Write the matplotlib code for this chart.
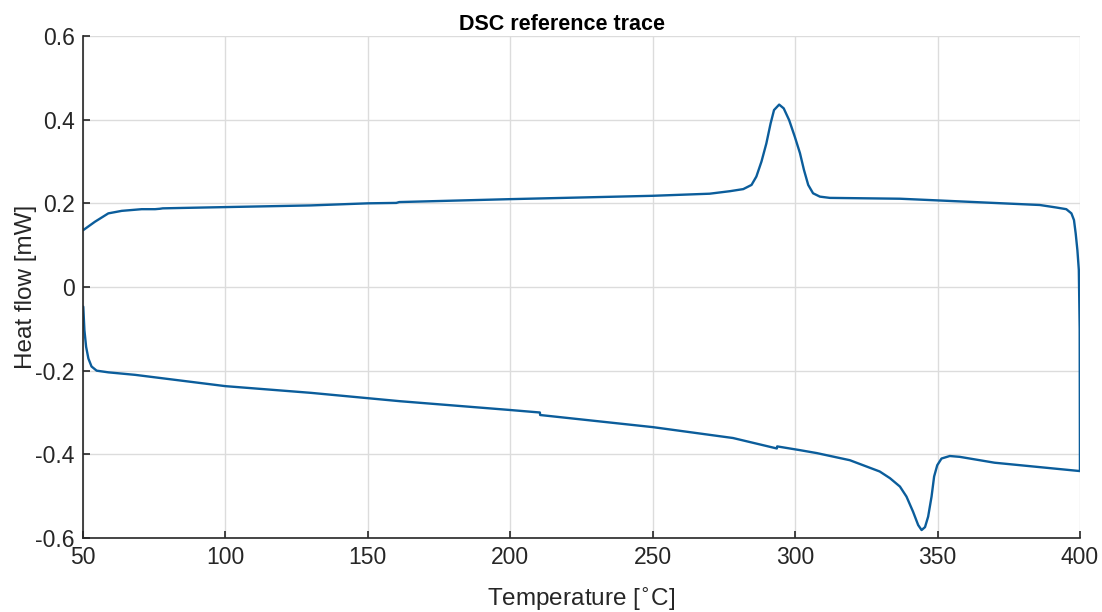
import numpy as np
import matplotlib
import matplotlib.pyplot as plt

matplotlib.use('Agg')

# Heating branch (upper), 50 -> 400 C
heat_temp = [50.1, 54.2, 58.9, 63.6, 70.6, 75.3, 77, 78, 85, 100, 130, 150,
             160, 161, 200, 250, 270, 277.1, 281.8, 284.7, 286.4, 288.2,
             289.9, 291.4, 292.6, 294.4, 296.0, 297.9, 299.9, 301.7, 303.1,
             304.6, 306.3, 308.7, 312.2, 336.8, 350, 385.9, 391.7, 395.2,
             397.0, 397.9, 398.5, 399.1, 399.6, 399.9, 400]
heat_flow = [0.136, 0.156, 0.176, 0.182, 0.186, 0.186, 0.187, 0.188, 0.189,
             0.191, 0.195, 0.200, 0.201, 0.203, 0.210, 0.218, 0.223, 0.229,
             0.234, 0.244, 0.264, 0.300, 0.343, 0.391, 0.423, 0.436, 0.427,
             0.399, 0.359, 0.320, 0.280, 0.244, 0.224, 0.216, 0.213, 0.211,
             0.207, 0.196, 0.190, 0.186, 0.176, 0.160, 0.128, 0.088, 0.041,
             -0.10, -0.44]

# Cooling branch (lower), 400 -> 50 C
cool_temp = [400, 385, 370, 357.8, 354.3, 351.4, 349.9, 348.8, 347.9, 346.7,
             345.6, 344.4, 343.2, 341.4, 339.1, 336.8, 333.3, 329.7, 319.2,
             307.6, 301.7, 293.7, 293.6, 278.2, 250.1, 210.5, 210.4, 199.9,
             161.3, 130, 100, 68.3, 58.9, 54.8, 53.0, 51.9, 51.1, 50.5, 50.1]
cool_flow = [-0.440, -0.430, -0.420, -0.406, -0.404, -0.410, -0.426, -0.453,
             -0.501, -0.549, -0.574, -0.581, -0.569, -0.537, -0.501, -0.477,
             -0.457, -0.441, -0.414, -0.397, -0.390, -0.381, -0.386, -0.361,
             -0.335, -0.306, -0.300, -0.294, -0.273, -0.253, -0.237, -0.210,
             -0.204, -0.200, -0.190, -0.171, -0.143, -0.103, -0.047]

x_ticks = [50, 100, 150, 200, 250, 300, 350, 400]
y_ticks = [-0.6, -0.4, -0.2, 0, 0.2, 0.4, 0.6]
y_tick_labels = ['-0.6', '-0.4', '-0.2', '0', '0.2', '0.4', '0.6']

plt.rcParams['font.family'] = ['Liberation Sans', 'DejaVu Sans']

fig = plt.figure(figsize=(11.02, 6.12), dpi=100)
ax = fig.add_axes([0.0753, 0.1209, 0.9047, 0.8203])

# one continuous trace: heating, drop at 400, cooling back
temp = heat_temp + cool_temp
flow = heat_flow + cool_flow
ax.plot(temp, flow, color='#0b5d9b', linewidth=1.7,
        solid_joinstyle='round', solid_capstyle='round')

ax.set_xlim(50, 400)
ax.set_ylim(-0.6, 0.6)
ax.set_xticks(x_ticks)
ax.set_yticks(y_ticks)
ax.set_yticklabels(y_tick_labels)

ax.grid(True, color='#dcdcdc', linewidth=1.0)
ax.set_axisbelow(True)
for side in ['top', 'right']:
    ax.spines[side].set_visible(False)
for side in ['left', 'bottom']:
    ax.spines[side].set_color('#262626')
    ax.spines[side].set_linewidth(1.2)
ax.tick_params(direction='in', length=5, width=1.2, colors='#262626',
               labelsize=16.5, pad=6)

ax.set_xlabel(r'Temperature [$^{\circ}$C]', fontsize=17.5, color='#262626',
              labelpad=12)
ax.set_ylabel('Heat flow [mW]', fontsize=17.5, color='#262626', labelpad=-1)
ax.set_title('DSC reference trace', fontsize=15.5, fontweight='bold',
             pad=4, x=0.48)

plt.savefig('out.png', dpi=100)
plt.close()
